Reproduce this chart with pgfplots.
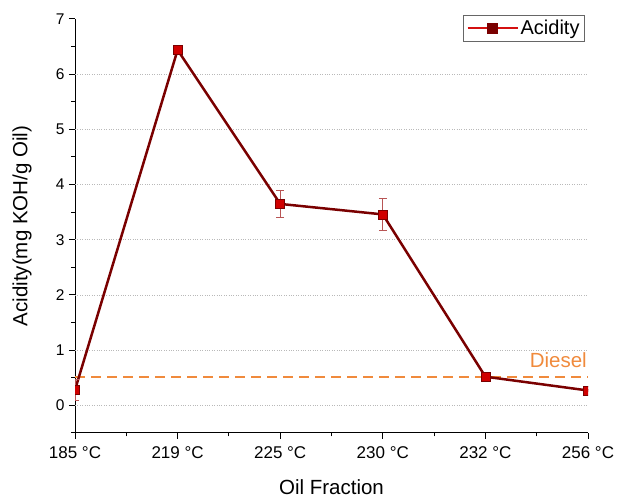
\documentclass[border=0pt]{standalone}
\usepackage{fontspec}
\setmainfont{Liberation Sans}
\usepackage{pgfplots}
\pgfplotsset{compat=1.18}
\definecolor{lineDark}{HTML}{7A0000}
\definecolor{markRed}{HTML}{D00000}
\definecolor{legRed}{HTML}{D41010}
\definecolor{errRed}{HTML}{B85555}
\definecolor{dieselOrange}{HTML}{F08A3C}
\begin{document}
\begin{tikzpicture}
\begin{axis}[
  name=ax,
  scale only axis,
  width=513pt, height=414pt,
  xmin=0, xmax=5, ymin=-0.5, ymax=7,
  axis x line=bottom, axis y line=left,
  axis line style={-, line width=1pt},
  xtick={0,1,2,3,4,5},
  xticklabels={185 °C,219 °C,225 °C,230 °C,232 °C,256 °C},
  minor xtick={0.5,1.5,2.5,3.5,4.5},
  ytick={0,1,2,3,4,5,6,7},
  minor ytick={-0.5,0.5,1.5,2.5,3.5,4.5,5.5,6.5},
  tick align=outside,
  major tick length=6pt, minor tick length=3.5pt,
  every tick/.style={black, line width=1pt},
  yticklabel style={font=\fontsize{15.5}{18}\selectfont, xshift=-1pt},
  xticklabel style={font=\fontsize{17}{20}\selectfont, yshift=-4pt},
  /pgf/number format/assume math mode=true,
  extra y ticks={0,1,2,3,4,5,6},
  extra y tick labels={},
  extra y tick style={grid=major, major tick length=0pt, major grid style={gray!55, dotted, line width=0.9pt}},
  xlabel={Oil Fraction},
  ylabel={Acidity(mg KOH/g Oil)},
  label style={font=\fontsize{20.5}{24}\selectfont},
  xlabel style={at={(axis description cs:0.5,-0.130)}, anchor=center},
  ylabel style={at={(axis description cs:-0.103,0.5)}, anchor=center, rotate=0},
  clip marker paths=true,
  legend style={at={(rel axis cs:0.994,1.01)}, anchor=north east, draw=gray!80!black, line width=0.8pt, font=\fontsize{20}{23}\selectfont, inner sep=3pt},
  legend image code/.code={\draw[mark repeat=2, mark phase=2] plot coordinates {(0pt,0pt) (25pt,0pt) (50pt,0pt)};},
  legend cell align=left,
]
\addplot[dieselOrange, line width=2pt, dash pattern=on 10pt off 6pt, forget plot] coordinates {(0,0.52) (5,0.52)};
\node[anchor=south east, text=dieselOrange, font=\fontsize{20.5}{24}\selectfont, inner sep=1pt] at (axis cs:5,0.66) {Diesel};
\addplot[lineDark, line width=2.5pt, forget plot,
  mark=square*, mark size=4.5pt,
  mark options={fill=markRed, draw=lineDark, line width=0.6pt, solid},
  error bars/.cd, y dir=both, y explicit,
  error bar style={errRed, line width=1pt},
  error mark options={rotate=90, mark size=4pt, errRed, line width=1pt}]
  coordinates {
  (0,0.28) +- (0,0.19)
  (1,6.44) +- (0,0.03)
  (2,3.65) +- (0,0.25)
  (3,3.46) +- (0,0.29)
  (4,0.52) +- (0,0.03)
  (5,0.27) +- (0,0.02)
  };
\addlegendimage{legRed, line width=2.2pt, mark=square*, mark size=4.5pt, mark options={fill=lineDark, draw=lineDark}}
\addlegendentry{Acidity}
\end{axis}
\pgfresetboundingbox
\path[use as bounding box] ([shift={(-75pt,-65pt)}]ax.south west) rectangle ([shift={(30pt,19pt)}]ax.north east);
\end{tikzpicture}
\end{document}
